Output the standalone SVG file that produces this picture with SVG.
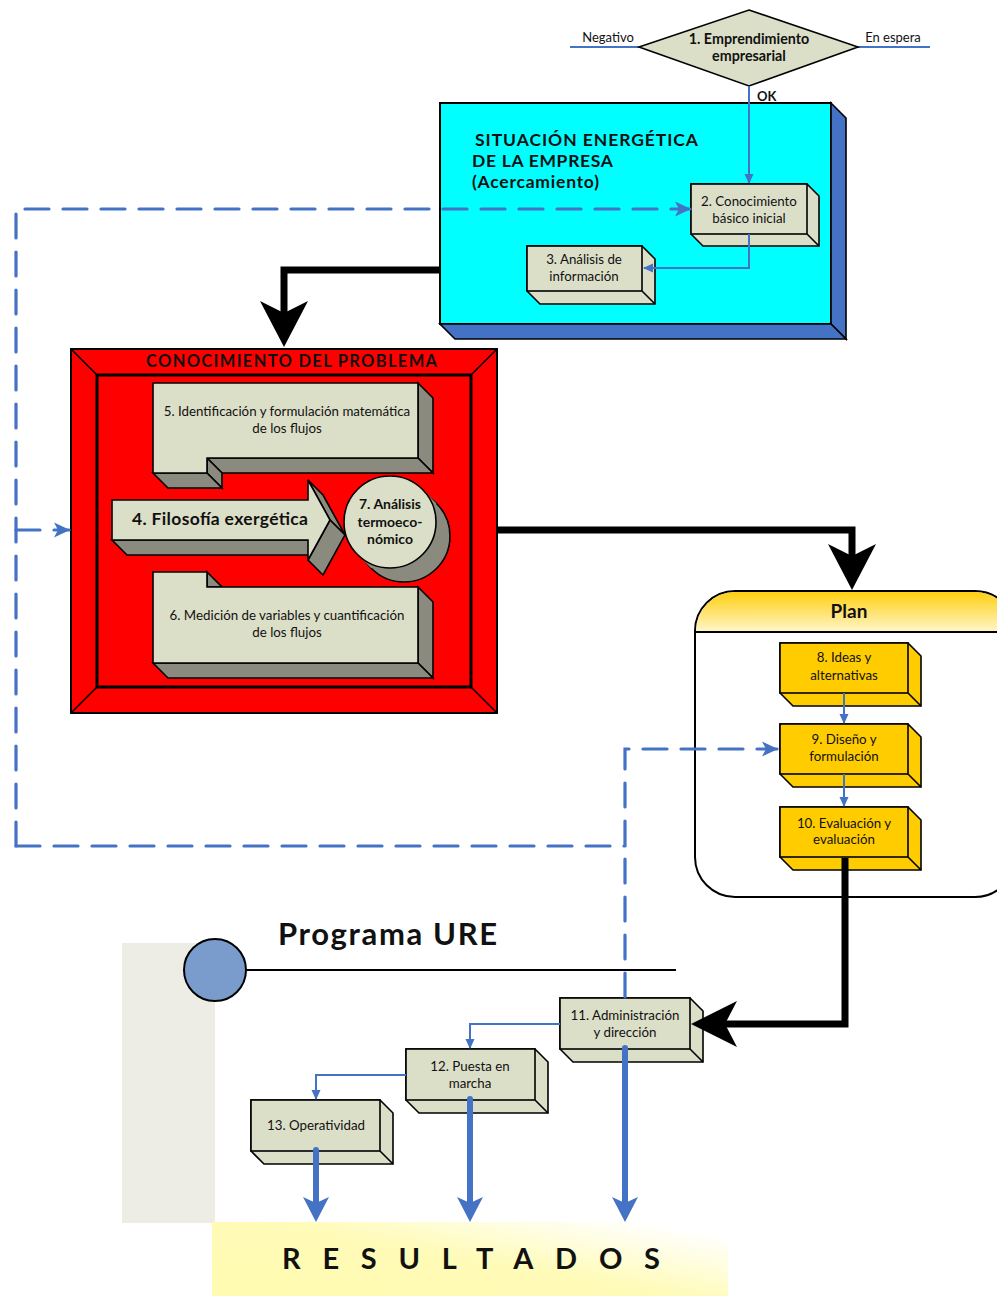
<svg xmlns="http://www.w3.org/2000/svg" width="997" height="1296" viewBox="0 0 997 1296">
<style>
text{font-family:Lato,"Liberation Sans",sans-serif;fill:#111}
.t{font-size:13.3px;text-anchor:middle}
.b{font-weight:bold}
.box{fill:#dcdfc8;stroke:#000;stroke-width:1.6}
.side{fill:#8a8b7e;stroke:#000;stroke-width:1.6}
.ybox{fill:#ffcc00;stroke:#000;stroke-width:1.6}
.thin{fill:none;stroke:#4472c4;stroke-width:2}
.dash{fill:none;stroke:#4472c4;stroke-width:3.2;stroke-dasharray:24 14;stroke-linecap:round}
.thick{fill:none;stroke:#000;stroke-width:7}
.bthick{fill:none;stroke:#4472c4;stroke-width:6;stroke-linecap:round}
</style>
<defs>
<marker id="sa" markerUnits="userSpaceOnUse" markerWidth="10" markerHeight="10" refX="9" refY="5" orient="auto" viewBox="0 0 10 10"><path d="M0,0.5 L10,5 L0,9.5 z" fill="#4472c4"/></marker>
<marker id="da" markerUnits="userSpaceOnUse" markerWidth="16" markerHeight="16" refX="15" refY="8" orient="auto" viewBox="0 0 16 16"><path d="M0,0.5 L16,8 L0,15.5 L4,8 z" fill="#4472c4"/></marker>
<linearGradient id="hdr" x1="0" y1="0" x2="0" y2="1"><stop offset="0" stop-color="#ffcf10"/><stop offset="1" stop-color="#fff6cc"/></linearGradient>
<linearGradient id="res" x1="0" y1="1" x2="1" y2="0.2"><stop offset="0" stop-color="#fffbb0"/><stop offset="0.55" stop-color="#fffbb8"/><stop offset="1" stop-color="#ffffff"/></linearGradient>
</defs>
<rect width="997" height="1296" fill="#fff"/>

<g id="node-emprendimiento">
<line x1="570" y1="47" x2="640" y2="47" stroke="#4472c4" stroke-width="2"/>
<line x1="857" y1="47" x2="930" y2="47" stroke="#4472c4" stroke-width="2"/>
<text x="608" y="42" class="t" style="font-size:13px">Negativo</text>
<text x="893" y="42" class="t" style="font-size:13px">En espera</text>
<polygon points="749,10 858,47 749,86 639,47" fill="#dcdfc8" stroke="#000" stroke-width="1.6"/>
<text x="749" y="44" class="t b" style="font-size:14.3px">1. Emprendimiento</text>
<text x="749" y="61" class="t b" style="font-size:14.3px">empresarial</text>
</g>

<g id="node-situacion">
<rect x="440" y="103" width="391" height="221" fill="#00ffff" stroke="#000" stroke-width="2"/>
<polygon points="831,103 846,118 846,339 831,324" fill="#4472c4" stroke="#000" stroke-width="1.6"/>
<polygon points="440,324 831,324 846,339 455,339" fill="#4472c4" stroke="#000" stroke-width="1.6"/>
<text x="475" y="146" class="b" style="font-size:17.5px" textLength="223" lengthAdjust="spacing">SITUACIÓN ENERGÉTICA</text>
<text x="472" y="167" class="b" style="font-size:17.5px" textLength="141" lengthAdjust="spacing">DE LA EMPRESA</text>
<text x="472" y="188" class="b" style="font-size:17.5px" textLength="127" lengthAdjust="spacing">(Acercamiento)</text>
</g>

<g id="node-2">
<polygon class="box" points="691,184 807,184 819,196 819,246 703,246 691,234"/>
<rect class="box" x="691" y="184" width="116" height="50"/>
<line x1="807" y1="234" x2="819" y2="246" stroke="#000" stroke-width="1.6"/>
<text x="749" y="206" class="t">2. Conocimiento</text>
<text x="749" y="223" class="t">básico inicial</text>
</g>

<g id="node-3">
<polygon class="box" points="527,246 642,246 655,259 655,304 540,304 527,291"/>
<rect class="box" x="527" y="246" width="115" height="45"/>
<line x1="642" y1="291" x2="655" y2="304" stroke="#000" stroke-width="1.6"/>
<text x="584" y="264" class="t">3. Análisis de</text>
<text x="584" y="281" class="t">información</text>
</g>

<g id="node-problema">
<rect x="71" y="349" width="426" height="364" fill="#ff0000" stroke="#000" stroke-width="2"/>
<line x1="71" y1="349" x2="97" y2="375" stroke="#000" stroke-width="1.6"/>
<line x1="497" y1="349" x2="471" y2="375" stroke="#000" stroke-width="1.6"/>
<line x1="71" y1="713" x2="97" y2="687" stroke="#000" stroke-width="1.6"/>
<line x1="497" y1="713" x2="471" y2="687" stroke="#000" stroke-width="1.6"/>
<rect x="97" y="375" width="374" height="312" fill="#ff0000" stroke="#000" stroke-width="3"/>
<text x="146" y="367" class="b" style="font-size:16.5px" textLength="291" lengthAdjust="spacing">CONOCIMIENTO DEL PROBLEMA</text>
</g>

<g id="node-5">
<polygon class="side" points="418,383 433,398 433,473 418,458"/>
<polygon class="side" points="207,458 418,458 433,473 222,473"/>
<polygon class="side" points="207,458 222,473 222,488 207,473"/>
<polygon class="side" points="153,473 207,473 222,488 168,488"/>
<polygon class="box" points="153,383 418,383 418,458 207,458 207,473 153,473"/>
<text x="287" y="416" class="t">5. Identificación y formulación matemática</text>
<text x="287" y="433" class="t">de los flujos</text>
</g>

<g id="node-6">
<polygon class="side" points="207,572 222,587 207,587"/>
<polygon class="side" points="418,587 433,602 433,678 418,663"/>
<polygon class="side" points="153,663 418,663 433,678 168,678"/>
<polygon class="box" points="153,572 207,572 207,587 418,587 418,663 153,663"/>
<text x="287" y="620" class="t">6. Medición de variables y cuantificación</text>
<text x="287" y="637" class="t">de los flujos</text>
</g>

<g id="node-4">
<polygon class="side" points="112,540 308,540 323,555 127,555"/>
<polygon class="side" points="308,480 330,520 345,535 323,495"/>
<polygon class="side" points="330,520 308,560 323,575 345,535"/>
<polygon class="box" points="112,500 308,500 308,480 330,520 308,560 308,540 112,540"/>
<text x="132" y="525" class="b" style="font-size:17.5px" textLength="176" lengthAdjust="spacing">4. Filosofía exergética</text>
</g>

<g id="node-7">
<circle cx="404" cy="536" r="46" class="side"/>
<polygon points="422.5,489.5 436.5,503.5 371.5,568.5 357.5,554.5" fill="#8a8b7e"/>
<circle cx="390" cy="522" r="46" class="box"/>
<text x="390" y="509" class="t b" style="font-size:14px">7. Análisis</text>
<text x="390" y="527" class="t b" style="font-size:14px">termoeco-</text>
<text x="390" y="544" class="t b" style="font-size:14px">nómico</text>
</g>

<g id="node-plan">
<rect x="695" y="591" width="320" height="306" rx="40" ry="40" fill="#fff" stroke="#000" stroke-width="2"/>
<path d="M696,632 V631 A39,39 0 0 1 735,592 H975 A39,39 0 0 1 1014,631 V632 Z" fill="url(#hdr)"/>
<line x1="695" y1="632" x2="997" y2="632" stroke="#000" stroke-width="2"/>
<text x="849" y="618" class="t b" style="font-size:19px">Plan</text>
</g>

<g id="node-8">
<polygon class="ybox" points="780,643 908,643 921,656 921,706 793,706 780,693"/>
<rect class="ybox" x="780" y="643" width="128" height="50"/>
<line x1="908" y1="693" x2="921" y2="706" stroke="#000" stroke-width="1.6"/>
<text x="844" y="662" class="t">8. Ideas y</text>
<text x="844" y="680" class="t">alternativas</text>
</g>

<g id="node-9">
<polygon class="ybox" points="780,724 908,724 921,737 921,787 793,787 780,774"/>
<rect class="ybox" x="780" y="724" width="128" height="50"/>
<line x1="908" y1="774" x2="921" y2="787" stroke="#000" stroke-width="1.6"/>
<text x="844" y="744" class="t">9. Diseño y</text>
<text x="844" y="761" class="t">formulación</text>
</g>

<g id="node-10">
<polygon class="ybox" points="780,807 908,807 921,820 921,870 793,870 780,857"/>
<rect class="ybox" x="780" y="807" width="128" height="50"/>
<line x1="908" y1="857" x2="921" y2="870" stroke="#000" stroke-width="1.6"/>
<text x="844" y="828" class="t">10. Evaluación y</text>
<text x="844" y="844" class="t">evaluación</text>
</g>

<g id="node-programa">
<rect x="122" y="943" width="93" height="280" fill="#ededE5"/>
<line x1="246" y1="970" x2="676" y2="970" stroke="#000" stroke-width="2"/>
<circle cx="215" cy="970" r="31" fill="#7a9ccc" stroke="#000" stroke-width="2"/>
<text x="278" y="945" class="b" style="font-size:31px" textLength="219" lengthAdjust="spacing">Programa URE</text>
</g>

<g id="node-resultados">
<rect x="212" y="1222" width="516" height="74" fill="url(#res)"/>
<text x="282" y="1269" class="b" style="font-size:29px" textLength="378" lengthAdjust="spacing">RESULTADOS</text>
</g>

<g id="node-11">
<polygon class="box" points="560,998 690,998 703,1011 703,1062 573,1062 560,1049"/>
<rect class="box" x="560" y="998" width="130" height="51"/>
<line x1="690" y1="1049" x2="703" y2="1062" stroke="#000" stroke-width="1.6"/>
<text x="625" y="1020" class="t">11. Administración</text>
<text x="625" y="1037" class="t">y dirección</text>
</g>

<g id="node-12">
<polygon class="box" points="406,1049 535,1049 548,1062 548,1113 419,1113 406,1100"/>
<rect class="box" x="406" y="1049" width="129" height="51"/>
<line x1="535" y1="1100" x2="548" y2="1113" stroke="#000" stroke-width="1.6"/>
<text x="470" y="1071" class="t">12. Puesta en</text>
<text x="470" y="1088" class="t">marcha</text>
</g>

<g id="node-13">
<polygon class="box" points="251,1100 380,1100 393,1113 393,1164 264,1164 251,1151"/>
<rect class="box" x="251" y="1100" width="129" height="51"/>
<line x1="380" y1="1151" x2="393" y2="1164" stroke="#000" stroke-width="1.6"/>
<text x="316" y="1130" class="t">13. Operatividad</text>
</g>

<g id="connectors">
<path class="thin" d="M749,86 V183" marker-end="url(#sa)"/>
<text x="757" y="101" class="b" style="font-size:13px">OK</text>
<path class="thin" d="M749,234 V268 H644" marker-end="url(#sa)"/>
<path class="thin" d="M844,693 V723" marker-end="url(#sa)"/>
<path class="thin" d="M844,774 V806" marker-end="url(#sa)"/>
<path class="thin" d="M560,1024 H470 V1048" marker-end="url(#sa)"/>
<path class="thin" d="M406,1075 H316 V1099" marker-end="url(#sa)"/>

<path class="dash" d="M16,846 V209 H690" marker-end="url(#da)"/>
<path class="dash" d="M16,530 H69" marker-end="url(#da)"/>
<path class="dash" d="M16,846 H625"/>
<path class="dash" d="M625,997 V749 H777" marker-end="url(#da)"/>

<path class="thick" d="M440,270 H284 V316"/>
<path d="M284,347 L260,301 L284,313 L308,301 Z" fill="#000"/>
<path class="thick" d="M497,530 H852 V558"/>
<path d="M852,590 L828,544 L852,556 L876,544 Z" fill="#000"/>
<path class="thick" d="M845,858 V1024 H722"/>
<path d="M691,1024 L737,1001 L725,1024 L737,1047 Z" fill="#000"/>

<path class="bthick" d="M316,1150 V1202"/>
<path d="M316,1222 L303,1197 L316,1203 L329,1197 Z" fill="#4472c4"/>
<path class="bthick" d="M470,1099 V1202"/>
<path d="M470,1222 L457,1197 L470,1203 L483,1197 Z" fill="#4472c4"/>
<path class="bthick" d="M625,1048 V1202"/>
<path d="M625,1222 L612,1197 L625,1203 L638,1197 Z" fill="#4472c4"/>
</g>
</svg>
